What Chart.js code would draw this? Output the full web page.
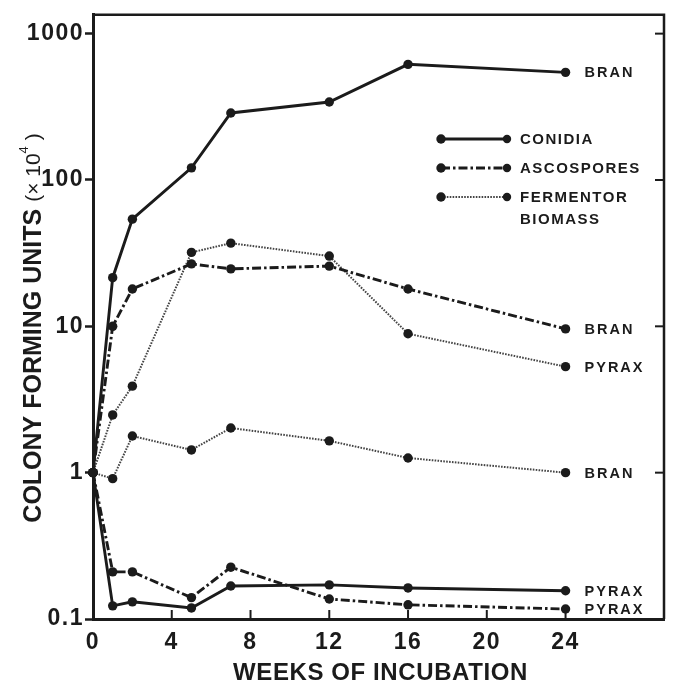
<!DOCTYPE html>
<html><head><meta charset="utf-8">
<script src="https://cdn.jsdelivr.net/npm/chart.js@4.4.1/dist/chart.umd.min.js"></script>
<style>html,body{margin:0;padding:0;background:#fff}#wrap{width:675px;height:686px;position:relative}</style>
</head><body><div id="wrap"><canvas id="c" width="675" height="686"></canvas></div>
<script>
// ---- data (weeks of incubation, colony forming units x 10^4) ----
const weeks = [0, 1, 2, 5, 7, 12, 16, 24];
const conidiaBran   = [1, 21.5, 54, 121, 287, 341, 617, 544];
const conidiaPyrax  = [1, 0.123, 0.131, 0.119, 0.168, 0.171, 0.163, 0.156];
const ascoBran      = [1, 10, 18, 26.7, 24.7, 25.8, 18, 9.6];
const ascoPyrax     = [1, 0.21, 0.21, 0.14, 0.226, 0.137, 0.125, 0.117];
const biomassPyrax  = [1, 2.48, 3.9, 32, 37, 30.2, 8.9, 5.3];
const biomassBran   = [1, 0.91, 1.78, 1.43, 2.02, 1.65, 1.26, 1.0];
const xTicks = [0, 4, 8, 12, 16, 20, 24];
const yTicks = [0.1, 1, 10, 100, 1000];
const legendLabels = ['CONIDIA', 'ASCOSPORES', ['FERMENTOR', 'BIOMASS']];
const xTitle = 'WEEKS OF INCUBATION';
const yTitleBold = 'COLONY FORMING UNITS';

const INK = '#1b1b1b';
const styles = {
  conidia: {dash: [], width: 2.9, color: INK},
  asco: {dash: [9, 3, 2.5, 3], width: 2.9, color: INK},
  biomass: {dash: [1.6, 1.3], width: 2, color: '#444'}
};
function ds(vals, st, end) {
  return {
    data: weeks.map((w, i) => ({x: w, y: vals[i]})),
    borderColor: styles[st].color, borderWidth: styles[st].width, borderDash: styles[st].dash,
    pointRadius: 4.7, pointBackgroundColor: INK, pointBorderWidth: 0, pointHoverRadius: 4.7,
    tension: 0, fill: false, clip: false, endLabel: end
  };
}
const datasets = [
  ds(conidiaBran, 'conidia', 'BRAN'),
  ds(ascoBran, 'asco', 'BRAN'),
  ds(biomassPyrax, 'biomass', 'PYRAX'),
  ds(biomassBran, 'biomass', 'BRAN'),
  ds(conidiaPyrax, 'conidia', 'PYRAX'),
  ds(ascoPyrax, 'asco', 'PYRAX')
];

const decor = {
  id: 'decor',
  beforeDraw(chart) { chart.ctx.letterSpacing = '1.5px'; },
  afterDraw(chart) {
    const ctx = chart.ctx, a = chart.chartArea;
    const xs = chart.scales.x, ys = chart.scales.y;
    ctx.save();
    ctx.strokeStyle = INK; ctx.fillStyle = INK;
    // top & right frame
    ctx.lineWidth = 2.5;
    ctx.beginPath();
    ctx.moveTo(a.left, a.top); ctx.lineTo(a.right, a.top); ctx.lineTo(a.right, a.bottom);
    ctx.stroke();
    // right inward ticks
    ctx.lineWidth = 2;
    yTicks.forEach(v => {
      const y = ys.getPixelForValue(v);
      if (y < a.bottom - 3) { ctx.beginPath(); ctx.moveTo(a.right, y); ctx.lineTo(a.right - 9, y); ctx.stroke(); }
    });
    // bottom inward ticks
    xTicks.forEach(v => {
      if (v === 0) return;
      const x = xs.getPixelForValue(v);
      ctx.beginPath(); ctx.moveTo(x, a.bottom); ctx.lineTo(x, a.bottom - 9); ctx.stroke();
    });
    // end labels
    ctx.font = 'bold 14.5px "Liberation Sans", Arial, sans-serif';
    ctx.letterSpacing = '2px';
    ctx.textBaseline = 'middle'; ctx.textAlign = 'left';
    chart.data.datasets.forEach(d => {
      const last = d.data[d.data.length - 1];
      ctx.fillText(d.endLabel, xs.getPixelForValue(last.x) + 19, ys.getPixelForValue(last.y) + 1);
    });
    // legend
    const rows = [139, 168, 197];
    const keys = ['conidia', 'asco', 'biomass'];
    ctx.font = 'bold 15px "Liberation Sans", Arial, sans-serif';
    ctx.letterSpacing = '1.5px';
    rows.forEach((y, i) => {
      const st = styles[keys[i]];
      ctx.save();
      ctx.strokeStyle = st.color; ctx.lineWidth = st.width; ctx.setLineDash(st.dash);
      ctx.beginPath(); ctx.moveTo(441, y); ctx.lineTo(507, y); ctx.stroke();
      ctx.restore();
      ctx.beginPath(); ctx.arc(441, y, 4.7, 0, Math.PI * 2); ctx.fill();
      ctx.beginPath(); ctx.arc(507, y, 4.2, 0, Math.PI * 2); ctx.fill();
      const lab = legendLabels[i];
      if (Array.isArray(lab)) {
        lab.forEach((t, j) => ctx.fillText(t, 520, y + 1 + j * 22));
      } else ctx.fillText(lab, 520, y + 1);
    });
    // x title
    ctx.letterSpacing = '0.6px';
    ctx.font = 'bold 24px "Liberation Sans", Arial, sans-serif';
    ctx.textAlign = 'center';
    ctx.fillText(xTitle, (a.left + a.right) / 2 + 2, 673);
    // y title (rotated)
    ctx.letterSpacing = '0px';
    ctx.translate(33, 328);
    ctx.rotate(-Math.PI / 2);
    ctx.textAlign = 'left';
    const fB = 'bold 25px "Liberation Sans", Arial, sans-serif';
    const fN = '21px "Liberation Sans", Arial, sans-serif';
    const fS = '13px "Liberation Sans", Arial, sans-serif';
    ctx.font = fB; const w1 = ctx.measureText(yTitleBold + ' ').width;
    ctx.font = fN; const w2 = ctx.measureText('(\u00d7 10').width;
    ctx.font = fS; const w3 = ctx.measureText('4').width;
    ctx.font = fN; const w4 = ctx.measureText(' )').width;
    let x = -(w1 + w2 + w3 + w4) / 2;
    ctx.font = fB; ctx.fillText(yTitleBold + ' ', x, 1); x += w1;
    ctx.font = fN; ctx.fillText('(\u00d7 10', x, 1); x += w2;
    ctx.font = fS; ctx.fillText('4', x, -9); x += w3;
    ctx.font = fN; ctx.fillText(' )', x, 1);
    ctx.restore();
    ctx.letterSpacing = '0px';
  }
};

new Chart(document.getElementById('c'), {
  type: 'line',
  data: {datasets},
  plugins: [decor],
  options: {
    responsive: false, animation: false, devicePixelRatio: 1,
    layout: {padding: {left: 0, right: 11, top: 10, bottom: 0}},
    plugins: {legend: {display: false}, tooltip: {enabled: false}, title: {display: false}},
    scales: {
      x: {
        type: 'linear', min: 0, max: 29,
        afterBuildTicks: s => { s.ticks = xTicks.map(v => ({value: v})); },
        afterFit: s => { s.height = 67; },
        grid: {display: true, drawOnChartArea: false, drawTicks: false},
        border: {display: true, color: INK, width: 3},
        ticks: {color: INK, padding: 10, font: {family: '"Liberation Sans", Arial, sans-serif', size: 23, weight: 'bold'}, callback: v => String(v), maxRotation: 0}
      },
      y: {
        type: 'logarithmic', min: 0.1, max: 1345,
        afterBuildTicks: s => { s.ticks = yTicks.map(v => ({value: v})); },
        afterFit: s => { s.width = 93; },
        grid: {display: true, drawOnChartArea: false, drawTicks: true, tickLength: 8, tickColor: INK, tickWidth: 2.5},
        border: {display: true, color: INK, width: 3},
        ticks: {color: INK, padding: 1, font: {family: '"Liberation Sans", Arial, sans-serif', size: 23, weight: 'bold'}, callback: v => String(v)}
      }
    }
  }
});
</script></body></html>
